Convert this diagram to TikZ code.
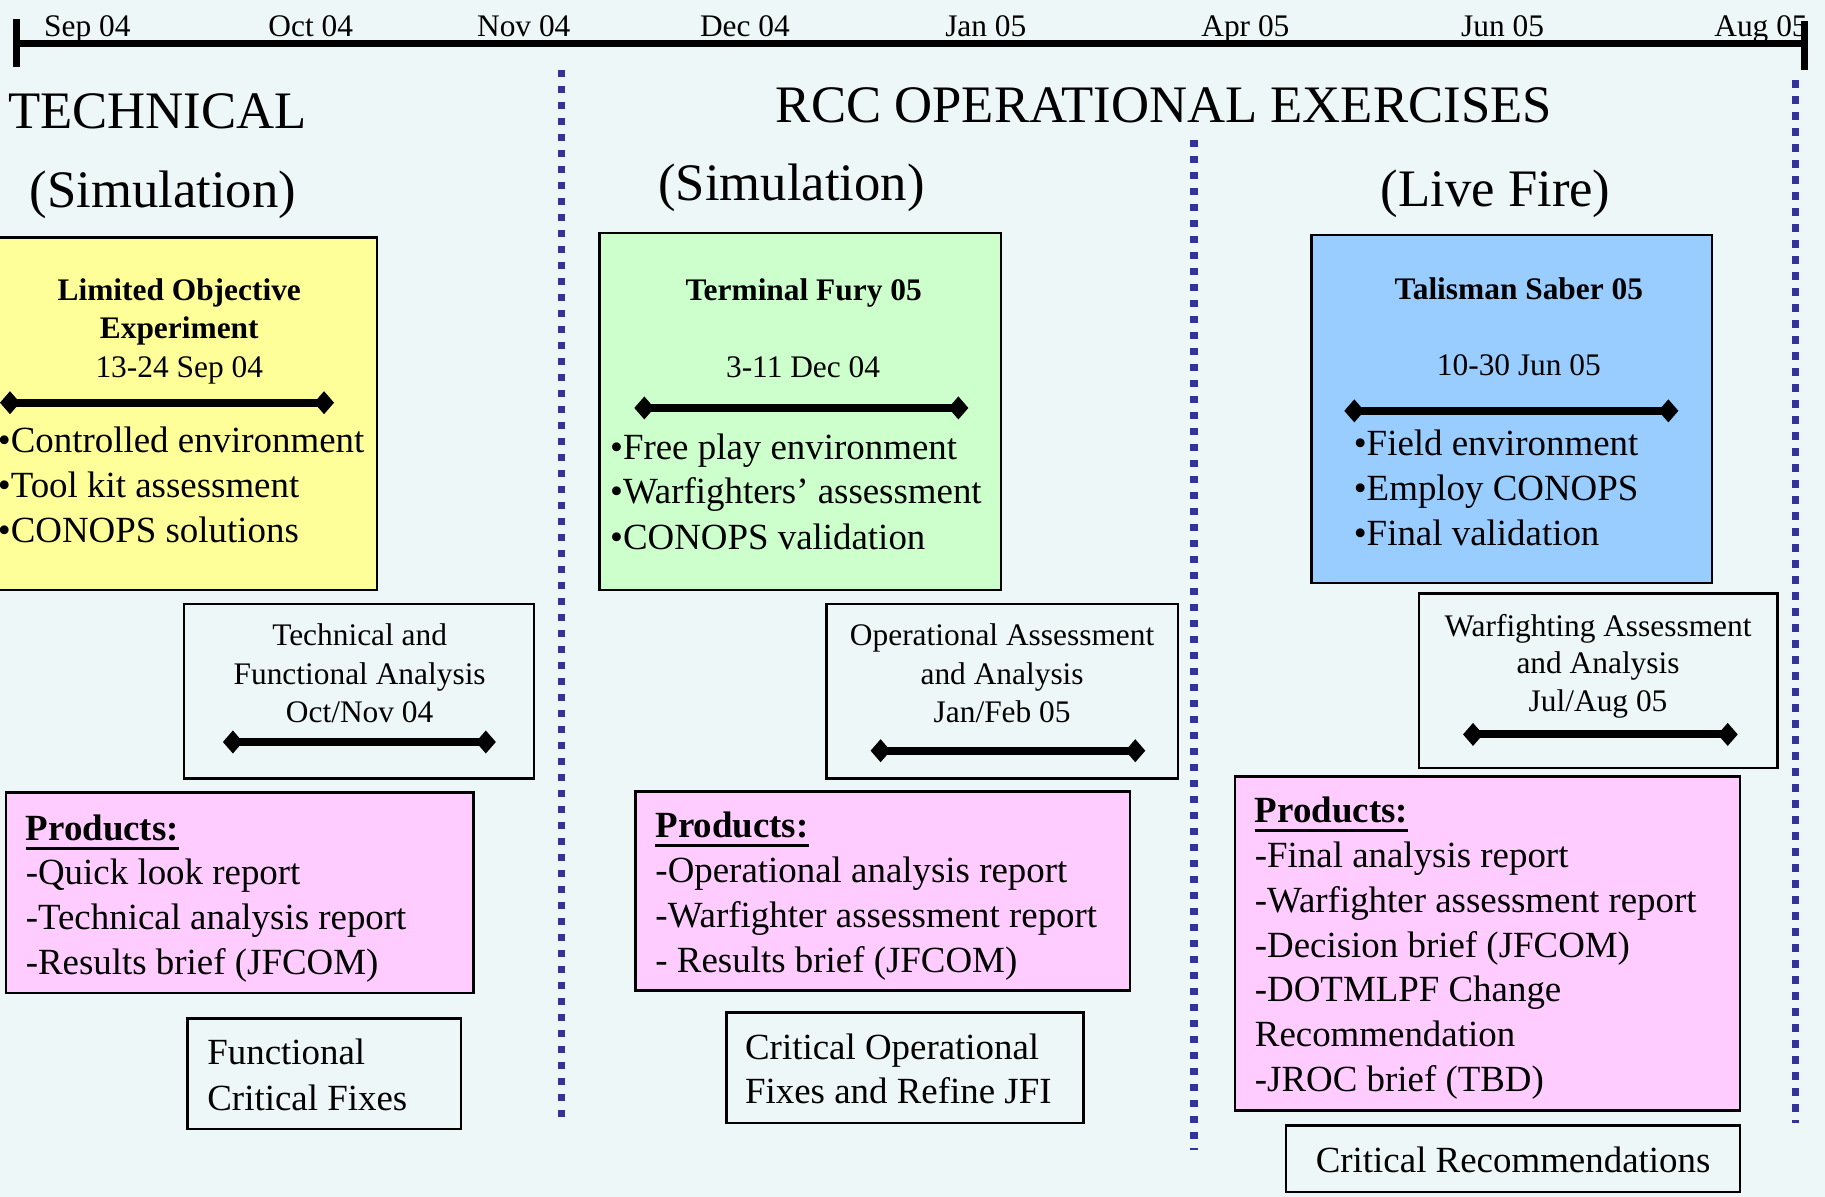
\documentclass[tikz,border=0pt]{standalone}
\usepackage{fontspec}
\setmainfont{Liberation Serif}
\usetikzlibrary{arrows.meta,fit}
\definecolor{bgc}{HTML}{EEF7F8}
\definecolor{ylw}{HTML}{FFFF99}
\definecolor{grn}{HTML}{CCFFCC}
\definecolor{blu}{HTML}{99CCFF}
\definecolor{pnk}{HTML}{FFCCFF}
\definecolor{dotc}{HTML}{333399}
\newcommand\fbody{\fontsize{36.9bp}{44bp}\selectfont}
\newcommand\ftitle{\fontsize{52.7bp}{60bp}\selectfont}
\newcommand\fsmall{\fontsize{31.4bp}{38bp}\selectfont}
\begin{document}
\begin{tikzpicture}[x=1.1639bp,y=-1.1639bp,
  box/.style={draw=black,line width=2.5bp,inner sep=0pt},
  tw/.style={inner sep=0pt,anchor=base west},
  tc/.style={inner sep=0pt,anchor=base},
  dline/.style={line width=8bp,{Turned Square[length=20bp,width=23bp]}-{Turned Square[length=20bp,width=23bp]}},
  vdots/.style={dotc,line width=7.5bp,dash pattern=on 7.5bp off 8.5bp},
  tline/.style={line width=7bp},
  uline/.style={line width=3bp}]
\fill[bgc] (0,0) rectangle (1568,1028);
\useasboundingbox (0,0) rectangle (1568,1028);

% timeline labels
\foreach \lab/\xx [count=\i] in {Sep 04/75,Oct 04/267,Nov 04/450,Dec 04/640,Jan 05/847,Apr 05/1070,Jun 05/1291,Aug 05/1513}
  \node[tc,font=\fsmall] (m\i) at (\xx,31.6) {\lab};

% timeline
\coordinate (tlL) at (14.6,37.4);
\coordinate (tlR) at (1550,37.4);
\coordinate (tkLa) at (14.6,16.3);
\coordinate (tkLb) at (14.6,57.6);
\coordinate (tkRa) at (1550,18);
\coordinate (tkRb) at (1550,60);
\draw[tline] (tlL) -- (tlR);
\draw[tline] (tkLa) -- (tkLb);
\draw[tline] (tkRa) -- (tkRb);

% dotted separators
\coordinate (d1a) at (482.4,60);   \coordinate (d1b) at (482.4,963);
\coordinate (d2a) at (1026,120);   \coordinate (d2b) at (1026,988);
\coordinate (d3a) at (1542.6,69);  \coordinate (d3b) at (1542.6,965);
\draw[vdots] (d1a) -- (d1b);
\draw[vdots] (d2a) -- (d2b);
\draw[vdots] (d3a) -- (d3b);

% titles
\node[tw,font=\ftitle] (ttech) at (7,110) {TECHNICAL};
\node[tc,font=\ftitle] (tsim1) at (140,178) {(Simulation)};
\node[tc,font=\ftitle] (trcc) at (1000,105.5) {RCC OPERATIONAL EXERCISES};
\node[tc,font=\ftitle] (tsim2) at (680,172.5) {(Simulation)};
\node[tc,font=\ftitle] (tlive) at (1285,177.5) {(Live Fire)};

% boxes
\node[box,fill=ylw,fit={(-1,204)(324,507)}] (lobox) {};
\node[box,fill=grn,fit={(515,200)(860,507)}] (tfbox) {};
\node[box,fill=blu,fit={(1127,202)(1471,501)}] (tsbox) {};
\node[box,fit={(158,519)(459,669)}] (wa1) {};
\node[box,fit={(710,519)(1012,669)}] (wa2) {};
\node[box,fit={(1219,510)(1527,660)}] (wa3) {};
\node[box,fill=pnk,fit={(5,681)(407,853)}] (pb1) {};
\node[box,fill=pnk,fit={(546,680)(971,851)}] (pb2) {};
\node[box,fill=pnk,fit={(1061,667)(1495,954)}] (pb3) {};
\node[box,fit={(161,875)(396,970)}] (cf1) {};
\node[box,fit={(624,870)(931,965)}] (cf2) {};
\node[box,fit={(1105,967)(1495,1024)}] (cf3) {};

% yellow box
\node[tc,font=\fsmall\bfseries] (lo1) at (154,258) {Limited Objective};
\node[tc,font=\fsmall\bfseries] (lo2) at (154,291) {Experiment};
\node[tc,font=\fsmall] (lo3) at (154,324.5) {13-24 Sep 04};
\coordinate (loa) at (0,346); \coordinate (lob) at (287,346);
\draw[dline] (loa) -- (lob);
\node[tw,font=\fbody] (lo4) at (-2,388.5) {•Controlled environment};
\node[tw,font=\fbody] (lo5) at (-2,427.5) {•Tool kit assessment};
\node[tw,font=\fbody] (lo6) at (-2,466) {•CONOPS solutions};

% green box
\node[tc,font=\fsmall\bfseries] (tf1) at (690.5,258) {Terminal Fury 05};
\node[tc,font=\fsmall] (tf2) at (690,324) {3-11 Dec 04};
\coordinate (tfa) at (545,350.5); \coordinate (tfb) at (832,350.5);
\draw[dline] (tfa) -- (tfb);
\node[tw,font=\fbody] (tf3) at (524,394.6) {•Free play environment};
\node[tw,font=\fbody] (tf4) at (524,433) {•Warfighters’ assessment};
\node[tw,font=\fbody] (tf5) at (524,472) {•CONOPS validation};

% blue box
\node[tc,font=\fsmall\bfseries] (ts1) at (1305,257) {Talisman Saber 05};
\node[tc,font=\fsmall] (ts2) at (1305,323) {10-30 Jun 05};
\coordinate (tsa) at (1155,353); \coordinate (tsb) at (1442,353);
\draw[dline] (tsa) -- (tsb);
\node[tw,font=\fbody] (ts3) at (1163,391.5) {•Field environment};
\node[tw,font=\fbody] (ts4) at (1163,430) {•Employ CONOPS};
\node[tw,font=\fbody] (ts5) at (1163,468.5) {•Final validation};

% analysis boxes
\node[tc,font=\fsmall] (a11) at (309,554.5) {Technical and};
\node[tc,font=\fsmall] (a12) at (309,588) {Functional Analysis};
\node[tc,font=\fsmall] (a13) at (309,621) {Oct/Nov 04};
\coordinate (a1a) at (191.5,637.5); \coordinate (a1b) at (426,637.5);
\draw[dline] (a1a) -- (a1b);

\node[tc,font=\fsmall] (a21) at (861,555) {Operational Assessment};
\node[tc,font=\fsmall] (a22) at (861,588) {and Analysis};
\node[tc,font=\fsmall] (a23) at (861,620.5) {Jan/Feb 05};
\coordinate (a2a) at (748,645); \coordinate (a2b) at (984,645);
\draw[dline] (a2a) -- (a2b);

\node[tc,font=\fsmall] (a31) at (1373,546.5) {Warfighting Assessment};
\node[tc,font=\fsmall] (a32) at (1373,579) {and Analysis};
\node[tc,font=\fsmall] (a33) at (1373,611.5) {Jul/Aug 05};
\coordinate (a3a) at (1257,631); \coordinate (a3b) at (1493,631);
\draw[dline] (a3a) -- (a3b);

% products 1
\node[tw,font=\fbody\bfseries] (p1h) at (22,722) {Products:};
\draw[uline] ([yshift=-8bp]p1h.base west) -- ([yshift=-8bp]p1h.base east);
\node[tw,font=\fbody] (p11) at (22,760) {-Quick look report};
\node[tw,font=\fbody] (p12) at (22,798.5) {-Technical analysis report};
\node[tw,font=\fbody] (p13) at (22,837) {-Results brief (JFCOM)};

% products 2
\node[tw,font=\fbody\bfseries] (p2h) at (563,719.5) {Products:};
\draw[uline] ([yshift=-8bp]p2h.base west) -- ([yshift=-8bp]p2h.base east);
\node[tw,font=\fbody] (p21) at (563,758.5) {-Operational analysis report};
\node[tw,font=\fbody] (p22) at (563,797) {-Warfighter assessment report};
\node[tw,font=\fbody] (p23) at (563,835.5) {- Results brief (JFCOM)};

% products 3
\node[tw,font=\fbody\bfseries] (p3h) at (1078,706.5) {Products:};
\draw[uline] ([yshift=-8bp]p3h.base west) -- ([yshift=-8bp]p3h.base east);
\node[tw,font=\fbody] (p31) at (1078,745.5) {-Final analysis report};
\node[tw,font=\fbody] (p32) at (1078,784) {-Warfighter assessment report};
\node[tw,font=\fbody] (p33) at (1078,822.5) {-Decision brief (JFCOM)};
\node[tw,font=\fbody] (p34) at (1078,860.5) {-DOTMLPF Change};
\node[tw,font=\fbody] (p35) at (1078,899.5) {Recommendation};
\node[tw,font=\fbody] (p36) at (1078,937.5) {-JROC brief (TBD)};

% critical boxes
\node[tw,font=\fbody] (c11) at (178,915) {Functional};
\node[tw,font=\fbody] (c12) at (178,954) {Critical Fixes};
\node[tw,font=\fbody] (c21) at (640,910) {Critical Operational};
\node[tw,font=\fbody] (c22) at (640,948.5) {Fixes and Refine JFI};
\node[tc,font=\fbody] (c31) at (1300,1007) {Critical Recommendations};
\end{tikzpicture}
\end{document}
